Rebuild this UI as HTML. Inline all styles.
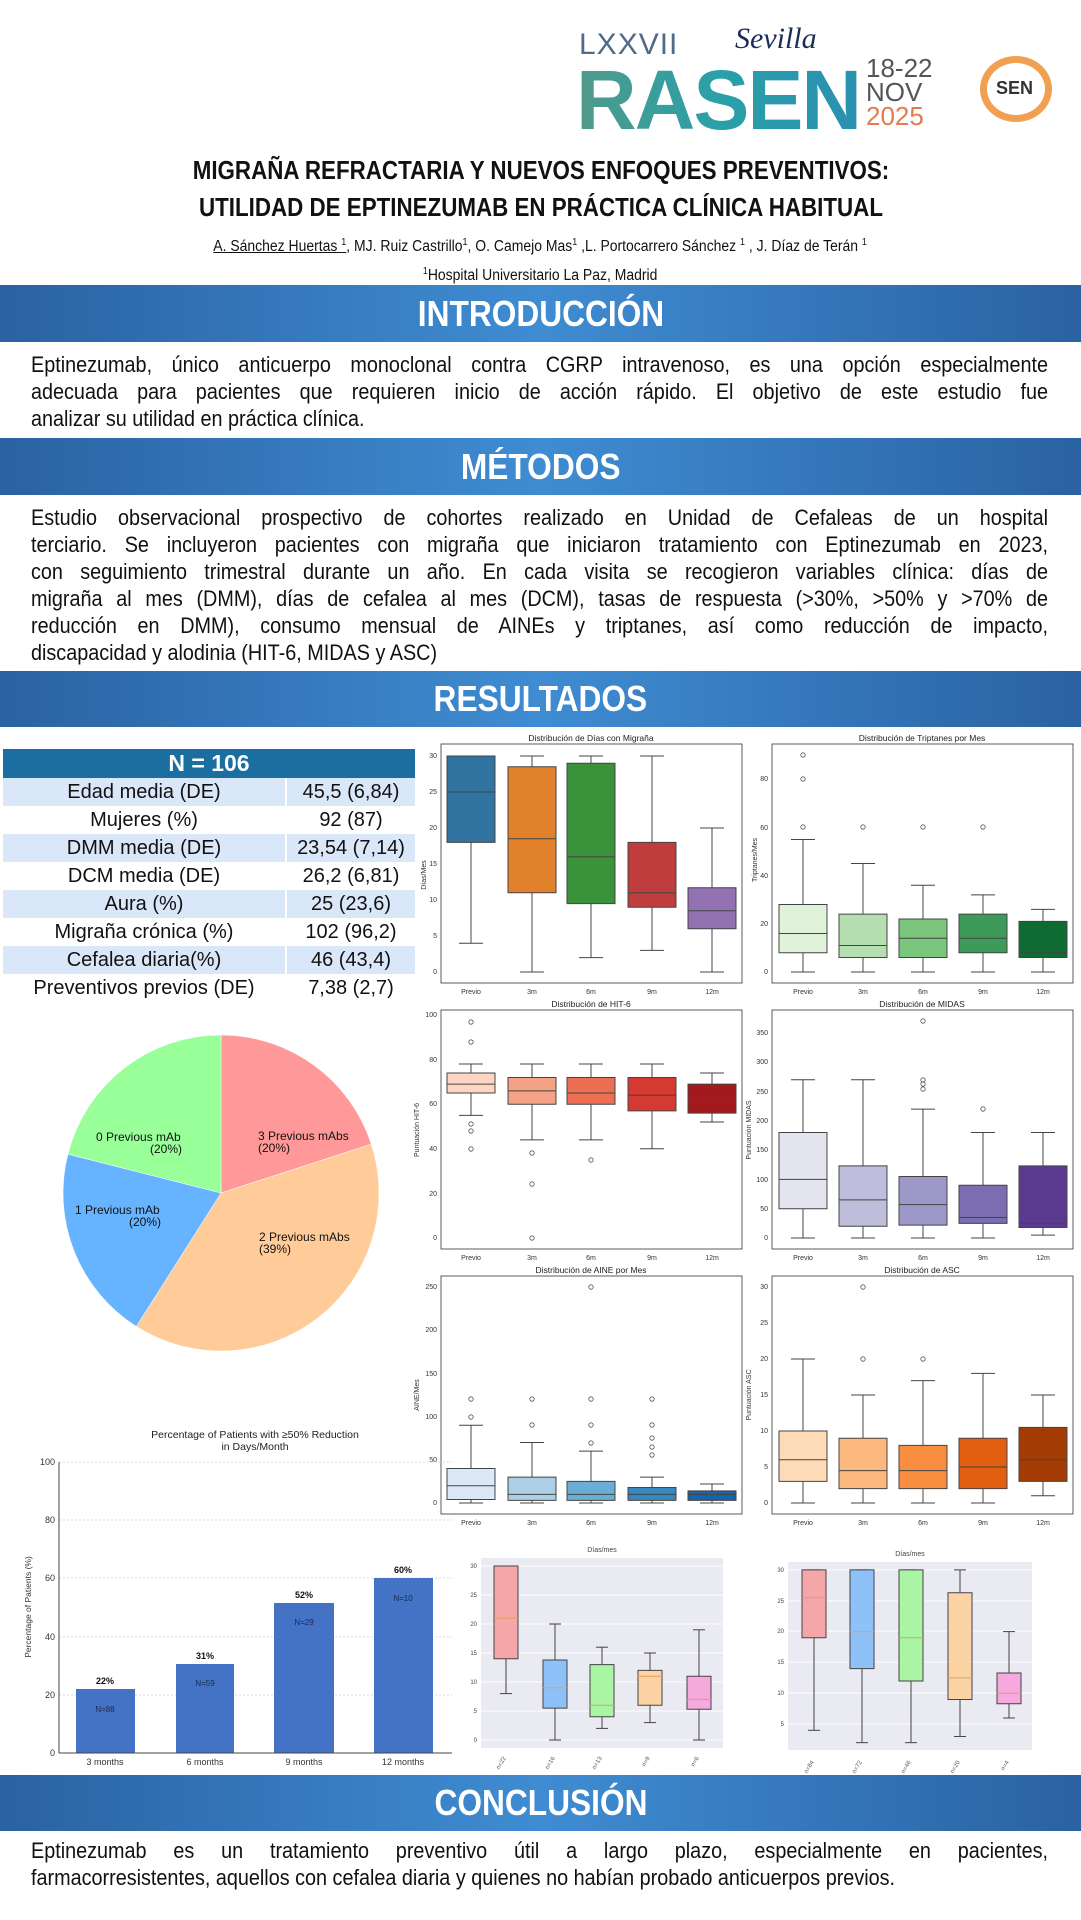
<!DOCTYPE html>
<html><head><meta charset="utf-8">
<style>
html,body{margin:0;padding:0;background:#fff}
body{width:1081px;height:1920px;position:relative;overflow:hidden;font-family:"Liberation Sans",Arial,sans-serif;color:#111}
.ab{position:absolute}
.ban{position:absolute;left:0;width:1081px;background:linear-gradient(to right,#2a62a2,#3f8cd2 50%,#2a62a2);color:#fff;text-align:center;font-weight:bold}
.ban span{display:inline-block;transform:scaleX(.88);font-size:36px}
.par{position:absolute;left:31px;width:1130px;font-size:22px;line-height:27px;transform:scaleX(.9);transform-origin:0 0}
.par div{text-align:justify;text-align-last:justify}
.par div.l{text-align-last:left}
table{border-collapse:collapse}
.tb td{height:28px;font-size:20px;text-align:center;padding:0;border-right:2px solid #fff}
svg text{font-family:"Liberation Sans",Arial,sans-serif}
.b line,.b rect{vector-effect:non-scaling-stroke;stroke:#444;stroke-width:1}
.m line{stroke:#e0a060!important}
</style></head><body>

<!-- header logos -->
<div class="ab" style="left:579px;top:28px;font-size:30px;color:#4f6a8a;letter-spacing:1px;font-weight:300">LXXVII</div>
<div class="ab" style="left:576px;top:52px;font-size:84px;font-weight:bold;letter-spacing:-2px;background:linear-gradient(to right,#4f9a8a,#2aa0a8,#2a90b0);-webkit-background-clip:text;color:transparent">RASEN</div>
<div class="ab" style="left:735px;top:22px;font-size:30px;font-style:italic;font-family:'Liberation Serif',serif;color:#1c2c5a">Sevilla</div>
<div class="ab" style="left:866px;top:56px;font-size:26px;line-height:24px;color:#555">18-22<br>NOV<br><span style="color:#e57b4f">2025</span></div>
<div class="ab" style="left:980px;top:56px;width:72px;height:66px;border-radius:50%;border:7px solid #f0a050;box-sizing:border-box"></div>
<div class="ab" style="left:996px;top:78px;font-size:18px;font-weight:bold;color:#333">SEN</div>

<div class="ab" style="left:0;top:152px;width:1081px;text-align:center;font-weight:bold;font-size:26px;line-height:37px"><span style="display:inline-block;transform:scaleX(.86)">MIGRAÑA REFRACTARIA Y NUEVOS ENFOQUES PREVENTIVOS:<br>UTILIDAD DE EPTINEZUMAB EN PRÁCTICA CLÍNICA HABITUAL</span></div>
<div class="ab" style="left:0;top:230px;width:1081px;text-align:center;font-size:15.5px;line-height:25px"><span style="display:inline-block;transform:scaleX(.9)"><u>A. Sánchez Huertas <sup style="font-size:10px">1</sup></u>, MJ. Ruiz Castrillo<sup style="font-size:10px">1</sup>, O. Camejo Mas<sup style="font-size:10px">1</sup> ,L. Portocarrero Sánchez <sup style="font-size:10px">1</sup> , J. Díaz de Terán <sup style="font-size:10px">1</sup><br><sup style="font-size:10px">1</sup>Hospital Universitario La Paz, Madrid</span></div>

<div class="ban" style="top:285px;height:57px;line-height:57px"><span>INTRODUCCIÓN</span></div>
<div class="par" style="top:351px">
<div>Eptinezumab, único anticuerpo monoclonal contra CGRP intravenoso, es una opción especialmente</div>
<div>adecuada para pacientes que requieren inicio de acción rápido. El objetivo de este estudio fue</div>
<div class="l">analizar su utilidad en práctica clínica.</div>
</div>

<div class="ban" style="top:438px;height:57px;line-height:57px"><span>MÉTODOS</span></div>
<div class="par" style="top:504px">
<div>Estudio observacional prospectivo de cohortes realizado en Unidad de Cefaleas de un hospital</div>
<div>terciario. Se incluyeron pacientes con migraña que iniciaron tratamiento con Eptinezumab en 2023,</div>
<div>con seguimiento trimestral durante un año. En cada visita se recogieron variables clínica: días de</div>
<div>migraña al mes (DMM), días de cefalea al mes (DCM), tasas de respuesta (&gt;30%, &gt;50% y &gt;70% de</div>
<div>reducción en DMM), consumo mensual de AINEs y triptanes, así como reducción de impacto,</div>
<div class="l">discapacidad y alodinia (HIT-6, MIDAS y ASC)</div>
</div>

<div class="ban" style="top:671px;height:56px;line-height:56px"><span>RESULTADOS</span></div>

<table class="tb ab" style="left:3px;top:749px;width:414px">
<tr><td colspan="2" style="background:#1a6ea0;color:#fff;font-weight:bold;font-size:23px;height:29px">N = 106</td></tr>
<tr style="background:#d9e7f9"><td style="width:282px">Edad media (DE)</td><td>45,5 (6,84)</td></tr>
<tr style="background:#fff"><td>Mujeres (%)</td><td style="border-left:2px solid #e6e6e6">92 (87)</td></tr>
<tr style="background:#d9e7f9"><td>DMM media (DE)</td><td>23,54 (7,14)</td></tr>
<tr style="background:#fff"><td>DCM media (DE)</td><td style="border-left:2px solid #e6e6e6">26,2 (6,81)</td></tr>
<tr style="background:#d9e7f9"><td>Aura (%)</td><td>25 (23,6)</td></tr>
<tr style="background:#fff"><td>Migraña crónica (%)</td><td style="border-left:2px solid #e6e6e6">102 (96,2)</td></tr>
<tr style="background:#d9e7f9"><td>Cefalea diaria(%)</td><td>46 (43,4)</td></tr>
<tr style="background:#fff"><td>Preventivos previos (DE)</td><td style="border-left:2px solid #e6e6e6">7,38 (2,7)</td></tr>
</table>

<svg class="ab" style="left:0;top:0" width="1081" height="1920" viewBox="0 0 1081 1920">
<!-- pie -->
<g stroke="#fff" stroke-width="0.5">
<path d="M221,1193 L221,1035 A158,158 0 0 1 371.3,1144.2 Z" fill="#ff9999"/>
<path d="M221,1193 L371.3,1144.2 A158,158 0 0 1 136.3,1326.4 Z" fill="#ffcc99"/>
<path d="M221,1193 L136.3,1326.4 A158,158 0 0 1 67.9,1154.2 Z" fill="#66b3ff"/>
<path d="M221,1193 L67.9,1154.2 A158,158 0 0 1 221,1035 Z" fill="#99ff99"/>
</g>
<g font-size="12" fill="#111">
<text x="96" y="1141">0 Previous mAb</text><text x="150" y="1153">(20%)</text>
<text x="258" y="1140">3 Previous mAbs</text><text x="258" y="1152">(20%)</text>
<text x="75" y="1214">1 Previous mAb</text><text x="129" y="1226">(20%)</text>
<text x="259" y="1241">2 Previous mAbs</text><text x="259" y="1253">(39%)</text>
</g>

<!-- frames -->
<g fill="none" stroke="#333" stroke-width="0.8">
<rect x="441" y="744" width="301" height="239"/><rect x="772" y="744" width="301" height="239"/>
<rect x="441" y="1010" width="301" height="239"/><rect x="772" y="1010" width="301" height="239"/>
<rect x="441" y="1276" width="301" height="238"/><rect x="772" y="1276" width="301" height="238"/>
</g>
<g font-size="8.5" text-anchor="middle" fill="#222">
<text x="591" y="741">Distribución de Días con Migraña</text>
<text x="922" y="741">Distribución de Triptanes por Mes</text>
<text x="591" y="1007">Distribución de HIT-6</text>
<text x="922" y="1007">Distribución de MIDAS</text>
<text x="591" y="1273">Distribución de AINE por Mes</text>
<text x="922" y="1273">Distribución de ASC</text>
</g>
<g font-size="7" text-anchor="middle" fill="#333">
<text x="471" y="994">Previo</text><text x="532" y="994">3m</text><text x="591" y="994">6m</text><text x="652" y="994">9m</text><text x="712" y="994">12m</text>
<text x="803" y="994">Previo</text><text x="863" y="994">3m</text><text x="923" y="994">6m</text><text x="983" y="994">9m</text><text x="1043" y="994">12m</text>
<text x="471" y="1260">Previo</text><text x="532" y="1260">3m</text><text x="591" y="1260">6m</text><text x="652" y="1260">9m</text><text x="712" y="1260">12m</text>
<text x="803" y="1260">Previo</text><text x="863" y="1260">3m</text><text x="923" y="1260">6m</text><text x="983" y="1260">9m</text><text x="1043" y="1260">12m</text>
<text x="471" y="1525">Previo</text><text x="532" y="1525">3m</text><text x="591" y="1525">6m</text><text x="652" y="1525">9m</text><text x="712" y="1525">12m</text>
<text x="803" y="1525">Previo</text><text x="863" y="1525">3m</text><text x="923" y="1525">6m</text><text x="983" y="1525">9m</text><text x="1043" y="1525">12m</text>
</g>
<g font-size="7" text-anchor="end" fill="#333">
<text x="437" y="974">0</text><text x="437" y="938">5</text><text x="437" y="902">10</text><text x="437" y="866">15</text><text x="437" y="830">20</text><text x="437" y="794">25</text><text x="437" y="758">30</text>
<text x="768" y="974">0</text><text x="768" y="926">20</text><text x="768" y="878">40</text><text x="768" y="830">60</text><text x="768" y="781">80</text>
<text x="437" y="1240">0</text><text x="437" y="1196">20</text><text x="437" y="1151">40</text><text x="437" y="1106">60</text><text x="437" y="1062">80</text><text x="437" y="1017">100</text>
<text x="768" y="1240">0</text><text x="768" y="1211">50</text><text x="768" y="1182">100</text><text x="768" y="1152">150</text><text x="768" y="1123">200</text><text x="768" y="1094">250</text><text x="768" y="1064">300</text><text x="768" y="1035">350</text>
<text x="437" y="1505">0</text><text x="437" y="1462">50</text><text x="437" y="1419">100</text><text x="437" y="1376">150</text><text x="437" y="1332">200</text><text x="437" y="1289">250</text>
<text x="768" y="1505">0</text><text x="768" y="1469">5</text><text x="768" y="1433">10</text><text x="768" y="1397">15</text><text x="768" y="1361">20</text><text x="768" y="1325">25</text><text x="768" y="1289">30</text>
</g>
<g font-size="7" fill="#333">
<text transform="translate(426,875) rotate(-90)" text-anchor="middle">Días/Mes</text>
<text transform="translate(757,860) rotate(-90)" text-anchor="middle">Triptanes/Mes</text>
<text transform="translate(419,1130) rotate(-90)" text-anchor="middle">Puntuación HIT-6</text>
<text transform="translate(751,1130) rotate(-90)" text-anchor="middle">Puntuación MIDAS</text>
<text transform="translate(419,1395) rotate(-90)" text-anchor="middle">AINE/Mes</text>
<text transform="translate(751,1395) rotate(-90)" text-anchor="middle">Puntuación ASC</text>
</g>

<!-- Panel 1 -->
<g class="b" transform="translate(0,972) scale(1,-7.2)">
<line x1="471" y1="4" x2="471" y2="18"/><line x1="459" y1="4" x2="483" y2="4"/><line x1="459" y1="30" x2="483" y2="30"/><rect x="447" y="18" width="48" height="12" fill="#3274a1"/><line x1="447" y1="25" x2="495" y2="25"/>
<line x1="532" y1="0" x2="532" y2="11"/><line x1="532" y1="28.5" x2="532" y2="30"/><line x1="520" y1="0" x2="544" y2="0"/><line x1="520" y1="30" x2="544" y2="30"/><rect x="508" y="11" width="48" height="17.5" fill="#e1812c"/><line x1="508" y1="18.5" x2="556" y2="18.5"/>
<line x1="591" y1="2" x2="591" y2="9.5"/><line x1="591" y1="29" x2="591" y2="30"/><line x1="579" y1="2" x2="603" y2="2"/><line x1="579" y1="30" x2="603" y2="30"/><rect x="567" y="9.5" width="48" height="19.5" fill="#3a923a"/><line x1="567" y1="16" x2="615" y2="16"/>
<line x1="652" y1="3" x2="652" y2="9"/><line x1="652" y1="18" x2="652" y2="30"/><line x1="640" y1="3" x2="664" y2="3"/><line x1="640" y1="30" x2="664" y2="30"/><rect x="628" y="9" width="48" height="9" fill="#c03d3e"/><line x1="628" y1="11" x2="676" y2="11"/>
<line x1="712" y1="0" x2="712" y2="6"/><line x1="712" y1="11.7" x2="712" y2="20"/><line x1="700" y1="0" x2="724" y2="0"/><line x1="700" y1="20" x2="724" y2="20"/><rect x="688" y="6" width="48" height="5.7" fill="#9372b2"/><line x1="688" y1="8.5" x2="736" y2="8.5"/>
</g>
<!-- Panel 2 -->
<g class="b" transform="translate(0,972) scale(1,-2.41)">
<line x1="803" y1="0" x2="803" y2="8"/><line x1="803" y1="28" x2="803" y2="55"/><line x1="791" y1="0" x2="815" y2="0"/><line x1="791" y1="55" x2="815" y2="55"/><rect x="779" y="8" width="48" height="20" fill="#e0f2da"/><line x1="779" y1="16" x2="827" y2="16"/>
<line x1="863" y1="0" x2="863" y2="6"/><line x1="863" y1="24" x2="863" y2="45"/><line x1="851" y1="0" x2="875" y2="0"/><line x1="851" y1="45" x2="875" y2="45"/><rect x="839" y="6" width="48" height="18" fill="#b5dfb0"/><line x1="839" y1="11" x2="887" y2="11"/>
<line x1="923" y1="0" x2="923" y2="6"/><line x1="923" y1="22" x2="923" y2="36"/><line x1="911" y1="0" x2="935" y2="0"/><line x1="911" y1="36" x2="935" y2="36"/><rect x="899" y="6" width="48" height="16" fill="#7cc57d"/><line x1="899" y1="14" x2="947" y2="14"/>
<line x1="983" y1="0" x2="983" y2="8"/><line x1="983" y1="24" x2="983" y2="32"/><line x1="971" y1="0" x2="995" y2="0"/><line x1="971" y1="32" x2="995" y2="32"/><rect x="959" y="8" width="48" height="16" fill="#3d9a59"/><line x1="959" y1="14" x2="1007" y2="14"/>
<line x1="1043" y1="0" x2="1043" y2="6"/><line x1="1043" y1="21" x2="1043" y2="26"/><line x1="1031" y1="0" x2="1055" y2="0"/><line x1="1031" y1="26" x2="1055" y2="26"/><rect x="1019" y="6" width="48" height="15" fill="#0e6b31"/><line x1="1019" y1="8" x2="1067" y2="8"/>
</g>
<!-- Panel 3 -->
<g class="b" transform="translate(0,1238) scale(1,-2.23)">
<line x1="471" y1="55" x2="471" y2="65"/><line x1="471" y1="74" x2="471" y2="78"/><line x1="459" y1="55" x2="483" y2="55"/><line x1="459" y1="78" x2="483" y2="78"/><rect x="447" y="65" width="48" height="9" fill="#fcd5c3"/><line x1="447" y1="69" x2="495" y2="69"/>
<line x1="532" y1="44" x2="532" y2="60"/><line x1="532" y1="72" x2="532" y2="78"/><line x1="520" y1="44" x2="544" y2="44"/><line x1="520" y1="78" x2="544" y2="78"/><rect x="508" y="60" width="48" height="12" fill="#f4a285"/><line x1="508" y1="66" x2="556" y2="66"/>
<line x1="591" y1="44" x2="591" y2="60"/><line x1="591" y1="72" x2="591" y2="78"/><line x1="579" y1="44" x2="603" y2="44"/><line x1="579" y1="78" x2="603" y2="78"/><rect x="567" y="60" width="48" height="12" fill="#ec6f53"/><line x1="567" y1="65" x2="615" y2="65"/>
<line x1="652" y1="40" x2="652" y2="57"/><line x1="652" y1="72" x2="652" y2="78"/><line x1="640" y1="40" x2="664" y2="40"/><line x1="640" y1="78" x2="664" y2="78"/><rect x="628" y="57" width="48" height="15" fill="#d53a32"/><line x1="628" y1="64" x2="676" y2="64"/>
<line x1="712" y1="52" x2="712" y2="56"/><line x1="712" y1="69" x2="712" y2="74"/><line x1="700" y1="52" x2="724" y2="52"/><line x1="700" y1="74" x2="724" y2="74"/><rect x="688" y="56" width="48" height="13" fill="#a3191d"/><line x1="688" y1="63" x2="736" y2="63"/>
</g>
<!-- Panel 4 -->
<g class="b" transform="translate(0,1238) scale(1,-0.586)">
<line x1="803" y1="0" x2="803" y2="50"/><line x1="803" y1="180" x2="803" y2="270"/><line x1="791" y1="0" x2="815" y2="0"/><line x1="791" y1="270" x2="815" y2="270"/><rect x="779" y="50" width="48" height="130" fill="#e4e3f0"/><line x1="779" y1="100" x2="827" y2="100"/>
<line x1="863" y1="0" x2="863" y2="20"/><line x1="863" y1="123" x2="863" y2="270"/><line x1="851" y1="0" x2="875" y2="0"/><line x1="851" y1="270" x2="875" y2="270"/><rect x="839" y="20" width="48" height="103" fill="#bebddc"/><line x1="839" y1="65" x2="887" y2="65"/>
<line x1="923" y1="0" x2="923" y2="22"/><line x1="923" y1="105" x2="923" y2="220"/><line x1="911" y1="0" x2="935" y2="0"/><line x1="911" y1="220" x2="935" y2="220"/><rect x="899" y="22" width="48" height="83" fill="#9c98c8"/><line x1="899" y1="57" x2="947" y2="57"/>
<line x1="983" y1="0" x2="983" y2="25"/><line x1="983" y1="90" x2="983" y2="180"/><line x1="971" y1="0" x2="995" y2="0"/><line x1="971" y1="180" x2="995" y2="180"/><rect x="959" y="25" width="48" height="65" fill="#7a6db0"/><line x1="959" y1="35" x2="1007" y2="35"/>
<line x1="1043" y1="5" x2="1043" y2="18"/><line x1="1043" y1="123" x2="1043" y2="180"/><line x1="1031" y1="5" x2="1055" y2="5"/><line x1="1031" y1="180" x2="1055" y2="180"/><rect x="1019" y="18" width="48" height="105" fill="#5a3a8e"/><line x1="1019" y1="25" x2="1067" y2="25"/>
</g>
<!-- Panel 5 -->
<g class="b" transform="translate(0,1503) scale(1,-0.864)">
<line x1="471" y1="0" x2="471" y2="4"/><line x1="471" y1="40" x2="471" y2="90"/><line x1="459" y1="0" x2="483" y2="0"/><line x1="459" y1="90" x2="483" y2="90"/><rect x="447" y="4" width="48" height="36" fill="#dbe9f6"/><line x1="447" y1="20" x2="495" y2="20"/>
<line x1="532" y1="0" x2="532" y2="3"/><line x1="532" y1="30" x2="532" y2="70"/><line x1="520" y1="0" x2="544" y2="0"/><line x1="520" y1="70" x2="544" y2="70"/><rect x="508" y="3" width="48" height="27" fill="#abcfe5"/><line x1="508" y1="10" x2="556" y2="10"/>
<line x1="591" y1="0" x2="591" y2="3"/><line x1="591" y1="25" x2="591" y2="60"/><line x1="579" y1="0" x2="603" y2="0"/><line x1="579" y1="60" x2="603" y2="60"/><rect x="567" y="3" width="48" height="22" fill="#6aaed6"/><line x1="567" y1="10" x2="615" y2="10"/>
<line x1="652" y1="0" x2="652" y2="3"/><line x1="652" y1="18" x2="652" y2="30"/><line x1="640" y1="0" x2="664" y2="0"/><line x1="640" y1="30" x2="664" y2="30"/><rect x="628" y="3" width="48" height="15" fill="#3787c0"/><line x1="628" y1="10" x2="676" y2="10"/>
<line x1="712" y1="0" x2="712" y2="3"/><line x1="712" y1="14" x2="712" y2="22"/><line x1="700" y1="0" x2="724" y2="0"/><line x1="700" y1="22" x2="724" y2="22"/><rect x="688" y="3" width="48" height="11" fill="#1764ab"/><line x1="688" y1="10" x2="736" y2="10"/>
</g>
<!-- Panel 6 -->
<g class="b" transform="translate(0,1503) scale(1,-7.2)">
<line x1="803" y1="0" x2="803" y2="3"/><line x1="803" y1="10" x2="803" y2="20"/><line x1="791" y1="0" x2="815" y2="0"/><line x1="791" y1="20" x2="815" y2="20"/><rect x="779" y="3" width="48" height="7" fill="#fddbb8"/><line x1="779" y1="6" x2="827" y2="6"/>
<line x1="863" y1="0" x2="863" y2="2"/><line x1="863" y1="9" x2="863" y2="15"/><line x1="851" y1="0" x2="875" y2="0"/><line x1="851" y1="15" x2="875" y2="15"/><rect x="839" y="2" width="48" height="7" fill="#fdb97d"/><line x1="839" y1="4.5" x2="887" y2="4.5"/>
<line x1="923" y1="0" x2="923" y2="2"/><line x1="923" y1="8" x2="923" y2="17"/><line x1="911" y1="0" x2="935" y2="0"/><line x1="911" y1="17" x2="935" y2="17"/><rect x="899" y="2" width="48" height="6" fill="#f98e41"/><line x1="899" y1="4.5" x2="947" y2="4.5"/>
<line x1="983" y1="0" x2="983" y2="2"/><line x1="983" y1="9" x2="983" y2="18"/><line x1="971" y1="0" x2="995" y2="0"/><line x1="971" y1="18" x2="995" y2="18"/><rect x="959" y="2" width="48" height="7" fill="#e25e10"/><line x1="959" y1="5" x2="1007" y2="5"/>
<line x1="1043" y1="1" x2="1043" y2="3"/><line x1="1043" y1="10.5" x2="1043" y2="15"/><line x1="1031" y1="1" x2="1055" y2="1"/><line x1="1031" y1="15" x2="1055" y2="15"/><rect x="1019" y="3" width="48" height="7.5" fill="#a33c04"/><line x1="1019" y1="6" x2="1067" y2="6"/>
</g>
<!-- outliers -->
<g fill="none" stroke="#555" stroke-width="0.8">
<circle cx="803" cy="827" r="2.2"/><circle cx="803" cy="779" r="2.2"/><circle cx="803" cy="755" r="2.2"/><circle cx="863" cy="827" r="2.2"/><circle cx="923" cy="827" r="2.2"/><circle cx="983" cy="827" r="2.2"/>
<circle cx="471" cy="1124" r="2.2"/><circle cx="471" cy="1131" r="2.2"/><circle cx="471" cy="1149" r="2.2"/><circle cx="471" cy="1042" r="2.2"/><circle cx="471" cy="1022" r="2.2"/><circle cx="532" cy="1153" r="2.2"/><circle cx="532" cy="1184" r="2.2"/><circle cx="532" cy="1238" r="2.2"/><circle cx="591" cy="1160" r="2.2"/>
<circle cx="923" cy="1089" r="2.2"/><circle cx="923" cy="1084" r="2.2"/><circle cx="923" cy="1080" r="2.2"/><circle cx="923" cy="1021" r="2.2"/><circle cx="983" cy="1109" r="2.2"/>
<circle cx="471" cy="1417" r="2.2"/><circle cx="471" cy="1399" r="2.2"/><circle cx="532" cy="1425" r="2.2"/><circle cx="532" cy="1399" r="2.2"/><circle cx="591" cy="1443" r="2.2"/><circle cx="591" cy="1425" r="2.2"/><circle cx="591" cy="1399" r="2.2"/><circle cx="591" cy="1287" r="2.2"/><circle cx="652" cy="1455" r="2.2"/><circle cx="652" cy="1447" r="2.2"/><circle cx="652" cy="1438" r="2.2"/><circle cx="652" cy="1425" r="2.2"/><circle cx="652" cy="1399" r="2.2"/>
<circle cx="863" cy="1359" r="2.2"/><circle cx="863" cy="1287" r="2.2"/><circle cx="923" cy="1359" r="2.2"/>
<circle cx="555" cy="1566" r="2"/><circle cx="650" cy="1566" r="2"/>
</g>

<!-- bar chart -->
<text x="255" y="1438" font-size="10.5" text-anchor="middle" fill="#222">Percentage of Patients with ≥50% Reduction</text>
<text x="255" y="1450" font-size="10.5" text-anchor="middle" fill="#222">in Days/Month</text>
<g stroke="#ccc" stroke-dasharray="2,2" stroke-width="0.8">
<line x1="59" y1="1462" x2="452" y2="1462"/><line x1="59" y1="1520" x2="452" y2="1520"/><line x1="59" y1="1578" x2="452" y2="1578"/><line x1="59" y1="1637" x2="452" y2="1637"/><line x1="59" y1="1695" x2="452" y2="1695"/>
</g>
<g fill="#4472c4">
<rect x="76" y="1689" width="59" height="64"/><rect x="176" y="1664" width="58" height="89"/><rect x="274" y="1603" width="60" height="150"/><rect x="374" y="1578" width="59" height="175"/>
</g>
<line x1="59" y1="1462" x2="59" y2="1753" stroke="#444" stroke-width="1"/><line x1="59" y1="1753" x2="452" y2="1753" stroke="#444" stroke-width="1"/>
<g font-size="9" text-anchor="end" fill="#333">
<text x="55" y="1756">0</text><text x="55" y="1698">20</text><text x="55" y="1640">40</text><text x="55" y="1581">60</text><text x="55" y="1523">80</text><text x="55" y="1465">100</text>
</g>
<g font-size="9" font-weight="bold" text-anchor="middle" fill="#111">
<text x="105" y="1684">22%</text><text x="205" y="1659">31%</text><text x="304" y="1598">52%</text><text x="403" y="1573">60%</text>
</g>
<g font-size="8" text-anchor="middle" fill="#1a2a50">
<text x="105" y="1712">N=88</text><text x="205" y="1686">N=59</text><text x="304" y="1625">N=29</text><text x="403" y="1601">N=10</text>
</g>
<g font-size="9" text-anchor="middle" fill="#333">
<text x="105" y="1765">3 months</text><text x="205" y="1765">6 months</text><text x="304" y="1765">9 months</text><text x="403" y="1765">12 months</text>
</g>
<text transform="translate(31,1607) rotate(-90)" font-size="8.5" text-anchor="middle" fill="#333">Percentage of Patients (%)</text>

<!-- bottom box A -->
<rect x="481" y="1558" width="242" height="190" fill="#eaeaf2"/>
<g stroke="#fff" stroke-width="1"><line x1="481" y1="1740" x2="723" y2="1740"/><line x1="481" y1="1711" x2="723" y2="1711"/><line x1="481" y1="1682" x2="723" y2="1682"/><line x1="481" y1="1653" x2="723" y2="1653"/><line x1="481" y1="1624" x2="723" y2="1624"/><line x1="481" y1="1595" x2="723" y2="1595"/><line x1="481" y1="1566" x2="723" y2="1566"/></g>
<text x="602" y="1552" font-size="7" text-anchor="middle" fill="#444">Días/mes</text>
<g font-size="6" text-anchor="end" fill="#444"><text x="477" y="1742">0</text><text x="477" y="1713">5</text><text x="477" y="1684">10</text><text x="477" y="1655">15</text><text x="477" y="1626">20</text><text x="477" y="1597">25</text><text x="477" y="1568">30</text></g>
<g class="b" transform="translate(0,1740) scale(1,-5.8)">
<line x1="506" y1="8" x2="506" y2="14"/><line x1="500" y1="8" x2="512" y2="8"/><line x1="500" y1="30" x2="512" y2="30"/><rect x="494" y="14" width="24" height="16" fill="#f4a6a9"/>
<line x1="555" y1="0" x2="555" y2="5.5"/><line x1="555" y1="13.8" x2="555" y2="20"/><line x1="549" y1="0" x2="561" y2="0"/><line x1="549" y1="20" x2="561" y2="20"/><rect x="543" y="5.5" width="24" height="8.3" fill="#8ec1f7"/>
<line x1="602" y1="2" x2="602" y2="4"/><line x1="602" y1="13" x2="602" y2="16"/><line x1="596" y1="2" x2="608" y2="2"/><line x1="596" y1="16" x2="608" y2="16"/><rect x="590" y="4" width="24" height="9" fill="#a9f5a4"/>
<line x1="650" y1="3" x2="650" y2="6"/><line x1="650" y1="12" x2="650" y2="15"/><line x1="644" y1="3" x2="656" y2="3"/><line x1="644" y1="15" x2="656" y2="15"/><rect x="638" y="6" width="24" height="6" fill="#fbd3a4"/>
<line x1="699" y1="0" x2="699" y2="5.3"/><line x1="699" y1="11" x2="699" y2="19"/><line x1="693" y1="0" x2="705" y2="0"/><line x1="693" y1="19" x2="705" y2="19"/><rect x="687" y="5.3" width="24" height="5.7" fill="#f5a9dd"/>
</g>
<g class="b m" transform="translate(0,1740) scale(1,-5.8)">
<line x1="494" y1="21" x2="518" y2="21"/><line x1="543" y1="9" x2="567" y2="9"/><line x1="590" y1="6" x2="614" y2="6"/><line x1="638" y1="11" x2="662" y2="11"/><line x1="687" y1="7" x2="711" y2="7"/>
</g>
<g font-size="6" fill="#555">
<text transform="translate(506,1758) rotate(-60)" text-anchor="end">n=22</text><text transform="translate(555,1758) rotate(-60)" text-anchor="end">n=16</text><text transform="translate(602,1758) rotate(-60)" text-anchor="end">n=13</text><text transform="translate(650,1758) rotate(-60)" text-anchor="end">n=9</text><text transform="translate(699,1758) rotate(-60)" text-anchor="end">n=6</text>
</g>

<!-- bottom box B -->
<rect x="788" y="1562" width="244" height="188" fill="#eaeaf2"/>
<g stroke="#fff" stroke-width="1"><line x1="788" y1="1724" x2="1032" y2="1724"/><line x1="788" y1="1693" x2="1032" y2="1693"/><line x1="788" y1="1662" x2="1032" y2="1662"/><line x1="788" y1="1631" x2="1032" y2="1631"/><line x1="788" y1="1601" x2="1032" y2="1601"/><line x1="788" y1="1570" x2="1032" y2="1570"/></g>
<text x="910" y="1556" font-size="7" text-anchor="middle" fill="#444">Días/mes</text>
<g font-size="6" text-anchor="end" fill="#444"><text x="784" y="1726">5</text><text x="784" y="1695">10</text><text x="784" y="1664">15</text><text x="784" y="1633">20</text><text x="784" y="1603">25</text><text x="784" y="1572">30</text></g>
<g class="b" transform="translate(0,1755) scale(1,-6.17)">
<line x1="814" y1="4" x2="814" y2="19"/><line x1="808" y1="4" x2="820" y2="4"/><line x1="808" y1="30" x2="820" y2="30"/><rect x="802" y="19" width="24" height="11" fill="#f4a6a9"/>
<line x1="862" y1="2" x2="862" y2="14"/><line x1="856" y1="2" x2="868" y2="2"/><line x1="856" y1="30" x2="868" y2="30"/><rect x="850" y="14" width="24" height="16" fill="#8ec1f7"/>
<line x1="911" y1="2" x2="911" y2="12"/><line x1="905" y1="2" x2="917" y2="2"/><line x1="905" y1="30" x2="917" y2="30"/><rect x="899" y="12" width="24" height="18" fill="#a9f5a4"/>
<line x1="960" y1="3" x2="960" y2="9"/><line x1="960" y1="26.3" x2="960" y2="30"/><line x1="954" y1="3" x2="966" y2="3"/><line x1="954" y1="30" x2="966" y2="30"/><rect x="948" y="9" width="24" height="17.3" fill="#fbd3a4"/>
<line x1="1009" y1="6" x2="1009" y2="8.3"/><line x1="1009" y1="13.3" x2="1009" y2="20"/><line x1="1003" y1="6" x2="1015" y2="6"/><line x1="1003" y1="20" x2="1015" y2="20"/><rect x="997" y="8.3" width="24" height="5" fill="#f5a9dd"/>
</g>
<g class="b m" transform="translate(0,1755) scale(1,-6.17)">
<line x1="802" y1="25.5" x2="826" y2="25.5"/><line x1="850" y1="20" x2="874" y2="20"/><line x1="899" y1="19" x2="923" y2="19"/><line x1="948" y1="12.5" x2="972" y2="12.5"/><line x1="997" y1="10" x2="1021" y2="10"/>
</g>
<g font-size="6" fill="#555">
<text transform="translate(814,1762) rotate(-60)" text-anchor="end">n=84</text><text transform="translate(862,1762) rotate(-60)" text-anchor="end">n=72</text><text transform="translate(911,1762) rotate(-60)" text-anchor="end">n=46</text><text transform="translate(960,1762) rotate(-60)" text-anchor="end">n=20</text><text transform="translate(1009,1762) rotate(-60)" text-anchor="end">n=4</text>
</g>
</svg>

<div class="ban" style="top:1775px;height:56px;line-height:56px"><span>CONCLUSIÓN</span></div>
<div class="par" style="top:1837px">
<div>Eptinezumab es un tratamiento preventivo útil a largo plazo, especialmente en pacientes,</div>
<div class="l">farmacorresistentes, aquellos con cefalea diaria y quienes no habían probado anticuerpos previos.</div>
</div>

</body></html>
